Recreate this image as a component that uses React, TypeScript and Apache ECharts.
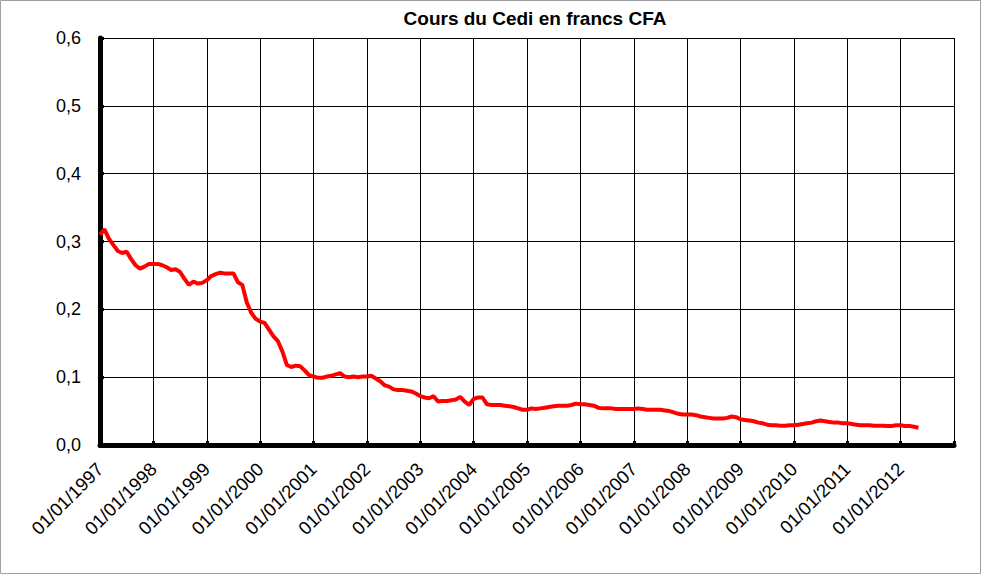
import React, { useEffect, useRef } from "react";
import * as echarts from "echarts";

const TITLE = "Cours du Cedi en francs CFA";
const START_YEAR = 1997;
const END_YEAR = 2013;

// Monthly categories 01/01/1997 .. 01/01/2013
const categories: string[] = [];
for (let y = START_YEAR; y <= END_YEAR; y++) {
  for (let m = 1; m <= 12; m++) {
    if (y === END_YEAR && m > 1) break;
    categories.push("01/" + String(m).padStart(2, "0") + "/" + y);
  }
}

// Cedi value in francs CFA, monthly from Jan 1997
const rate1997 = [0.310, 0.318, 0.304, 0.295, 0.286, 0.283, 0.285, 0.274, 0.265, 0.260, 0.263, 0.267];
const rate1998 = [0.267, 0.267, 0.265, 0.262, 0.258, 0.259, 0.255, 0.245, 0.236, 0.241, 0.238, 0.239];
const rate1999 = [0.243, 0.249, 0.252, 0.254, 0.253, 0.253, 0.253, 0.240, 0.236, 0.210, 0.195, 0.186];
const rate2000 = [0.182, 0.180, 0.170, 0.160, 0.153, 0.138, 0.118, 0.115, 0.117, 0.116, 0.110, 0.103];
const rate2001 = [0.101, 0.099, 0.099, 0.101, 0.102, 0.104, 0.106, 0.101, 0.100, 0.101, 0.100, 0.101];
const rate2002 = [0.101, 0.102, 0.098, 0.094, 0.088, 0.086, 0.082, 0.081, 0.081, 0.080, 0.079, 0.076];
const rate2003 = [0.072, 0.070, 0.069, 0.072, 0.064, 0.065, 0.065, 0.066, 0.067, 0.071, 0.064, 0.059];
const rate2004 = [0.068, 0.070, 0.070, 0.060, 0.059, 0.059, 0.059, 0.058, 0.057, 0.056, 0.054, 0.052];
const rate2005 = [0.052, 0.054, 0.053, 0.054, 0.055, 0.056, 0.057, 0.058, 0.058, 0.058, 0.059, 0.061];
const rate2006 = [0.060, 0.060, 0.059, 0.058, 0.055, 0.054, 0.054, 0.054, 0.053, 0.053, 0.053, 0.053];
const rate2007 = [0.053, 0.054, 0.053, 0.052, 0.052, 0.052, 0.052, 0.051, 0.050, 0.048, 0.046, 0.045];
const rate2008 = [0.045, 0.045, 0.044, 0.042, 0.041, 0.040, 0.039, 0.039, 0.039, 0.040, 0.042, 0.041];
const rate2009 = [0.038, 0.037, 0.036, 0.035, 0.033, 0.032, 0.030, 0.029, 0.029, 0.0285, 0.0285, 0.029];
const rate2010 = [0.029, 0.030, 0.031, 0.032, 0.033, 0.035, 0.036, 0.035, 0.034, 0.033, 0.033, 0.032];
const rate2011 = [0.032, 0.031, 0.030, 0.029, 0.029, 0.029, 0.0285, 0.0285, 0.0285, 0.028, 0.028, 0.029];
const rate2012 = [0.029, 0.028, 0.028, 0.027, 0.0255];

const rates = [
  ...rate1997, ...rate1998, ...rate1999, ...rate2000, ...rate2001, ...rate2002,
  ...rate2003, ...rate2004, ...rate2005, ...rate2006, ...rate2007, ...rate2008,
  ...rate2009, ...rate2010, ...rate2011, ...rate2012,
];

const FONT = "Liberation Sans, Arial, sans-serif";

export default function App() {
  const ref = useRef<HTMLDivElement>(null);
  useEffect(() => {
    document.body.style.margin = "0";
    if (!ref.current) return;
    const chart = echarts.init(ref.current, undefined, { renderer: "svg" });
    const last = categories.length - 1;
    chart.setOption({
      animation: false,
      backgroundColor: "#ffffff",
      title: {
        text: TITLE,
        left: 530,
        textAlign: "center",
        top: 4,
        textStyle: { fontFamily: FONT, fontSize: 19, fontWeight: "bold", color: "#000" },
      },
      graphic: [
        {
          type: "rect",
          shape: { x: 0.5, y: 0.5, width: 980, height: 573 },
          style: { fill: "none", stroke: "#a0a0a0", lineWidth: 1 },
          silent: true,
        },
      ],
      grid: { left: 100, right: 28, top: 38, bottom: 130, containLabel: false },
      xAxis: {
        type: "category",
        data: categories,
        boundaryGap: false,
        axisLine: { show: true, lineStyle: { color: "#000", width: 5 } },
        axisTick: {
          show: true,
          inside: true,
          length: 4,
          lineStyle: { color: "#000", width: 3 },
          interval: (i: number) => i % 12 === 0,
        },
        axisLabel: {
          interval: (i: number) => i % 12 === 0 && i < last,
          rotate: 45,
          margin: 21,
          fontFamily: FONT,
          fontSize: 18.5,
          color: "#000",
        },
        splitLine: {
          show: true,
          interval: (i: number) => i % 12 === 0,
          lineStyle: { color: "#000", width: 1 },
        },
      },
      yAxis: {
        type: "value",
        min: 0,
        max: 0.6,
        interval: 0.1,
        axisLine: { show: true, lineStyle: { color: "#000", width: 5 } },
        axisTick: { show: true, inside: true, length: 4, lineStyle: { color: "#000", width: 3 } },
        axisLabel: {
          margin: 19,
          fontFamily: FONT,
          fontSize: 18,
          color: "#000",
          formatter: (v: number) => v.toFixed(1).replace(".", ","),
        },
        splitLine: { show: true, lineStyle: { color: "#000", width: 1 } },
      },
      series: [
        {
          type: "line",
          data: rates,
          symbol: "none",
          smooth: false,
          lineStyle: { color: "#ff0000", width: 4 },
          z: 5,
        },
      ],
    });
    return () => chart.dispose();
  }, []);
  return <div ref={ref} style={{ width: 982, height: 575 }} />;
}
